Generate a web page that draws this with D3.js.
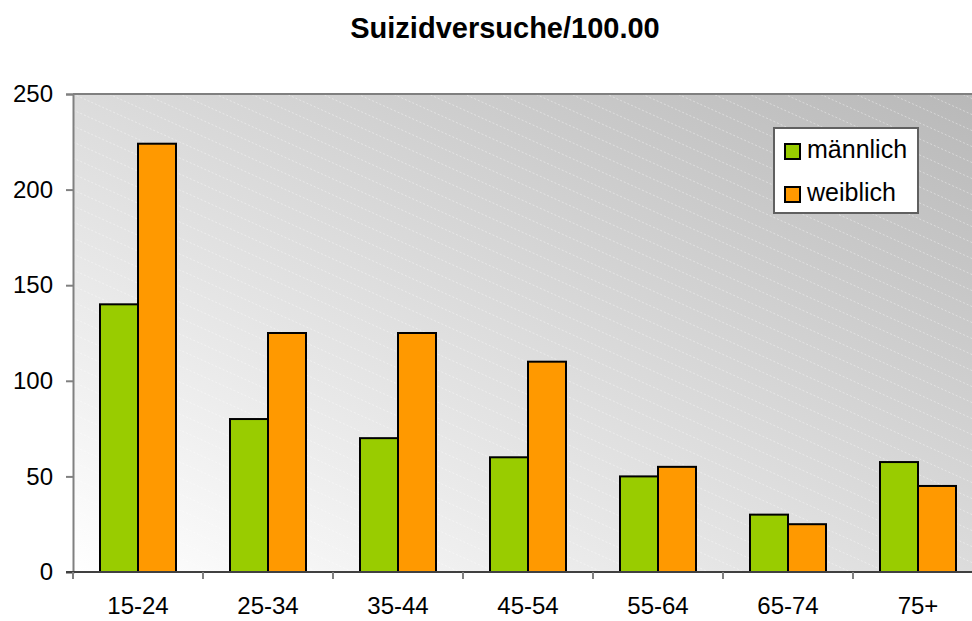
<!DOCTYPE html>
<html>
<head>
<meta charset="utf-8">
<script src="https://cdn.jsdelivr.net/npm/d3@7"></script>
<style>
  body { margin: 0; background: #fff; }
  svg { font-family: "Liberation Sans", Arial, sans-serif; }
</style>
</head>
<body>
<div id="chart"></div>
<script>
// Data
let categories = ["15-24", "25-34", "35-44", "45-54", "55-64", "65-74", "75+"];
let seriesNames = ["männlich", "weiblich"];
let maennlich = [140, 80, 70, 60, 50, 30, 57.5];
let weiblich = [224, 125, 125, 110, 55, 25, 45];
let yTicks = [0, 50, 100, 150, 200, 250];
let colors = ["#99cc00", "#ff9900"];

let width = 972, height = 621;
let margin = {top: 94, left: 73, bottom: 49};
let plot_right = 983;

let svg = d3.select("#chart")
            .append("svg")
            .attr("width", width)
            .attr("height", height);

let x = d3.scaleBand()
          .domain(categories)
          .range([margin.left, plot_right])
          .paddingInner(0).paddingOuter(0);

let y = d3.scaleLinear()
          .domain([0, 250])
          .range([height - margin.bottom, margin.top]);

let defs = svg.append("defs");
let grad = defs.append("linearGradient")
               .attr("id", "bg")
               .attr("x1", "0").attr("y1", "1")
               .attr("x2", "1").attr("y2", "0");
grad.append("stop").attr("offset", "0%").attr("stop-color", "#ffffff");
grad.append("stop").attr("offset", "100%").attr("stop-color", "#b8b8b8");

defs.append("clipPath").attr("id", "plotclip")
    .append("rect")
    .attr("x", margin.left).attr("y", margin.top)
    .attr("width", plot_right - margin.left)
    .attr("height", y(0) - margin.top);

// plot background
svg.append("rect")
   .attr("x", margin.left).attr("y", margin.top)
   .attr("width", plot_right - margin.left)
   .attr("height", y(0) - margin.top)
   .attr("fill", "url(#bg)");

// faint diagonal stripes
let stripes = svg.append("g").attr("clip-path", "url(#plotclip)");
for (let i = -60; i < 80; i++) {
  let y0 = margin.top + i * 16;
  stripes.append("line")
         .attr("x1", margin.left).attr("y1", y0)
         .attr("x2", plot_right).attr("y2", y0 + 0.45 * (plot_right - margin.left))
         .attr("stroke", "#ffffff")
         .attr("stroke-opacity", 0.4)
         .attr("stroke-width", 1)
         .attr("stroke-dasharray", "2,2");
}

// top border
svg.append("line")
   .attr("x1", margin.left).attr("x2", plot_right)
   .attr("y1", margin.top).attr("y2", margin.top)
   .attr("stroke", "#808080").attr("stroke-width", 2);

// bars
let barW = 38;
let groups = svg.append("g")
  .selectAll("g")
  .data(categories)
  .enter()
  .append("g")
  .attr("transform", d => "translate(" + (x(d) + x.bandwidth() / 2 - barW) + ",0)");

[maennlich, weiblich].forEach(function(vals, si) {
  groups.append("rect")
        .attr("x", si * barW)
        .attr("y", (d, i) => y(vals[i]))
        .attr("width", barW)
        .attr("height", (d, i) => y(0) - y(vals[i]))
        .attr("fill", colors[si])
        .attr("stroke", "#000")
        .attr("stroke-width", 2);
});

// axes
let yAxis = svg.append("g")
   .attr("transform", "translate(" + margin.left + ",0)")
   .call(d3.axisLeft(y).tickValues(yTicks).tickSize(7).tickPadding(13).tickFormat(d3.format("d")));
yAxis.select(".domain").attr("stroke", "#808080").attr("stroke-width", 2);
yAxis.selectAll(".tick line").attr("stroke", "#808080").attr("stroke-width", 2);
yAxis.selectAll("text").attr("font-size", 24).attr("fill", "#000")
     .attr("font-family", "Liberation Sans, Arial, sans-serif");

let xAxis = svg.append("g")
   .attr("transform", "translate(0," + y(0) + ")")
   .call(d3.axisBottom(x).tickSize(0).tickPadding(25));
xAxis.select(".domain").remove();
xAxis.selectAll("text").attr("font-size", 24).attr("fill", "#000")
     .attr("font-family", "Liberation Sans, Arial, sans-serif");

svg.append("line")
   .attr("x1", margin.left - 7).attr("x2", plot_right)
   .attr("y1", y(0)).attr("y2", y(0))
   .attr("stroke", "#404040").attr("stroke-width", 2);

// x ticks between categories
svg.append("g")
   .selectAll("line")
   .data(categories)
   .enter()
   .append("line")
   .attr("x1", d => x(d)).attr("x2", d => x(d))
   .attr("y1", y(0)).attr("y2", y(0) + 7)
   .attr("stroke", "#808080").attr("stroke-width", 2);

// title
svg.append("text")
   .attr("x", 505).attr("y", 38)
   .attr("text-anchor", "middle")
   .attr("font-size", 29)
   .attr("font-weight", "bold")
   .text("Suizidversuche/100.00");

// legend
let legend = svg.append("g");
legend.append("rect")
      .attr("x", 774).attr("y", 128)
      .attr("width", 144).attr("height", 85)
      .attr("fill", "#fff")
      .attr("stroke", "#606060").attr("stroke-width", 2);
seriesNames.forEach(function(name, i) {
  legend.append("rect")
        .attr("x", 785).attr("y", 144 + i * 43)
        .attr("width", 15).attr("height", 15)
        .attr("fill", colors[i])
        .attr("stroke", "#000").attr("stroke-width", 2);
  legend.append("text")
        .attr("x", 807).attr("y", 158 + i * 43)
        .attr("font-size", 25)
        .text(name);
});
</script>
</body>
</html>
